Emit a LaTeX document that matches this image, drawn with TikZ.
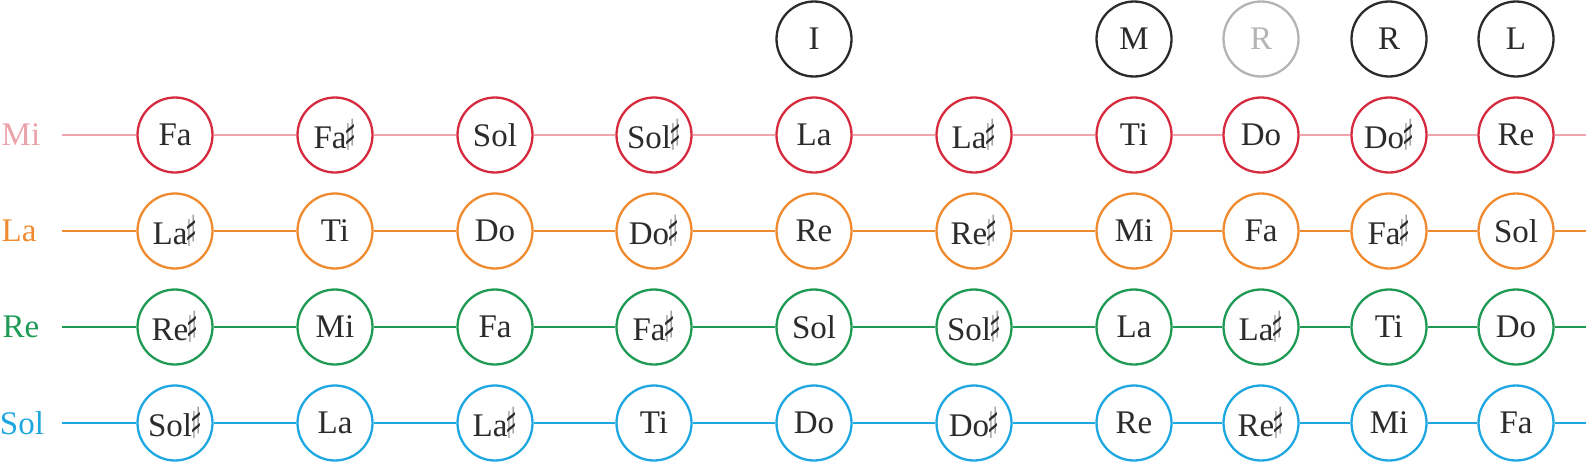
\documentclass[tikz,border=0pt]{standalone}
\usepackage{graphicx}
\usepackage{fontspec}
\setmainfont{Liberation Serif}
\newfontfamily\symf{DejaVu Sans}
\definecolor{txt}{HTML}{2B2B2B}
\definecolor{mired}{HTML}{D62B3F}
\definecolor{miline}{HTML}{EEA3AD}
\definecolor{milab}{HTML}{EBA3AA}
\definecolor{laor}{HTML}{F08A2E}
\definecolor{regr}{HTML}{1E9A55}
\definecolor{solbl}{HTML}{1EA7E1}
\definecolor{topdark}{HTML}{2B2B2B}
\definecolor{toplight}{HTML}{B4B4B4}
\newcommand\sh{\kern-2pt\raisebox{-2pt}{\scalebox{0.75}[1.3]{{\symf ♯}}}}
\begin{document}
\begin{tikzpicture}[x=1pt,y=-1pt,
  note/.style={circle, draw, line width=2.3pt, minimum size=75pt, inner sep=0pt, fill=white, text=txt, font=\fontsize{33}{33}\selectfont},
  rowlab/.style={anchor=center, font=\fontsize{33}{33}\selectfont},
  link/.style={line width=2pt}]
\useasboundingbox (0,0) rectangle (1586,463);
% top circles
\node[note, draw=topdark] (tI) at (814,39) {I};
\node[note, draw=topdark] (tM) at (1134,39) {M};
\node[note, draw=toplight, text=toplight] (tR1) at (1261,39) {R};
\node[note, draw=topdark] (tR2) at (1389,39) {R};
\node[note, draw=topdark] (tL) at (1516,39) {L};
% row labels and endpoints
\node[rowlab, text=milab] (lm) at (21,135) {Mi};
\node[rowlab, text=laor] (ll) at (19,231) {La};
\node[rowlab, text=regr] (lr) at (21,327) {Re};
\node[rowlab, text=solbl] (ls) at (22,423) {Sol};
\foreach \r/\y in {m/135,l/231,r/327,s/423}{
  \coordinate (\r s) at (62,\y);
  \coordinate (\r e) at (1586,\y);
}
% Mi row
\foreach \x/\t [count=\i] in {175/Fa,335/Fa\sh,495/Sol,654/Sol\sh,814/La,974/La\sh,1134/Ti,1261/Do,1389/Do\sh,1516/Re}
  \node[note, draw=mired] (m\i) at (\x,135) {\t};
% La row
\foreach \x/\t [count=\i] in {175/La\sh,335/Ti,495/Do,654/Do\sh,814/Re,974/Re\sh,1134/Mi,1261/Fa,1389/Fa\sh,1516/Sol}
  \node[note, draw=laor] (l\i) at (\x,231) {\t};
% Re row
\foreach \x/\t [count=\i] in {175/Re\sh,335/Mi,495/Fa,654/Fa\sh,814/Sol,974/Sol\sh,1134/La,1261/La\sh,1389/Ti,1516/Do}
  \node[note, draw=regr] (r\i) at (\x,327) {\t};
% Sol row
\foreach \x/\t [count=\i] in {175/Sol\sh,335/La,495/La\sh,654/Ti,814/Do,974/Do\sh,1134/Re,1261/Re\sh,1389/Mi,1516/Fa}
  \node[note, draw=solbl] (s\i) at (\x,423) {\t};
% connectors
\foreach \r/\c in {m/miline,l/laor,r/regr,s/solbl}{
  \draw[link, \c] (\r s) -- (\r1);
  \foreach \i [evaluate=\i as \j using int(\i+1)] in {1,...,9}
    \draw[link, \c] (\r\i) -- (\r\j);
  \draw[link, \c] (\r10) -- (\r e);
}
\end{tikzpicture}
\end{document}
